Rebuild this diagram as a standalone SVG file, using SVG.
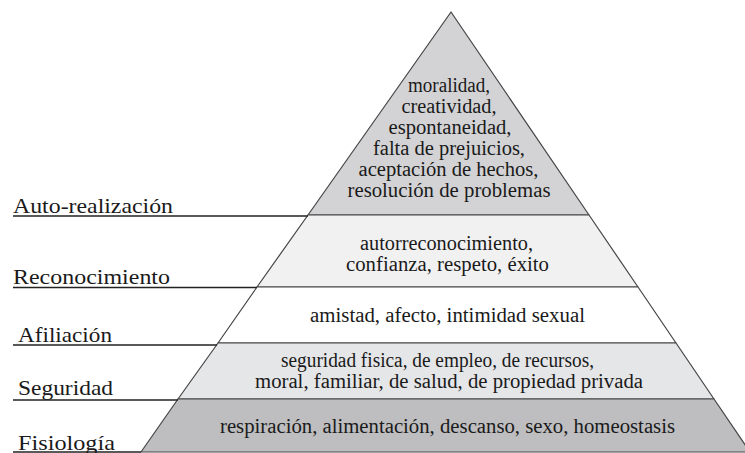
<svg xmlns="http://www.w3.org/2000/svg" width="745" height="453" viewBox="0 0 745 453" font-family="Liberation Serif, serif">
<style>
.band{stroke:#444;stroke-width:1.2;stroke-linejoin:round}
.t{font-family:'Liberation Serif','Times New Roman',serif;font-size:20px;fill:#1a1a1a;text-anchor:middle}
.lbl{font-family:'Liberation Serif','Times New Roman',serif;font-size:22px;fill:#1a1a1a}
.lead{stroke:#222;stroke-width:1.4;fill:none}
</style>
<rect width="745" height="453" fill="#ffffff"/>
<g id="level-autorrealizacion">
<polygon class="band" points="451,12 308,215 589,215" fill="#d3d3d5"/>
<text class="t" x="449" y="91.5" textLength="82" lengthAdjust="spacingAndGlyphs">moralidad,</text>
<text class="t" x="449" y="112.6" textLength="95" lengthAdjust="spacingAndGlyphs">creatividad,</text>
<text class="t" x="450" y="133.8" textLength="123" lengthAdjust="spacingAndGlyphs">espontaneidad,</text>
<text class="t" x="449" y="154.9" textLength="152" lengthAdjust="spacingAndGlyphs">falta de prejuicios,</text>
<text class="t" x="448.5" y="176" textLength="180" lengthAdjust="spacingAndGlyphs">aceptación de hechos,</text>
<text class="t" x="449" y="197" textLength="203" lengthAdjust="spacingAndGlyphs">resolución de problemas</text>
<text class="lbl" x="13" y="213" textLength="160" lengthAdjust="spacingAndGlyphs">Auto-realización</text>
</g>
<g id="level-reconocimiento">
<polygon class="band" points="308,215 589,215 638,287 257,287" fill="#f1f1f1"/>
<text class="t" x="446.5" y="250" textLength="173" lengthAdjust="spacingAndGlyphs">autorreconocimiento,</text>
<text class="t" x="447.5" y="270.5" textLength="203" lengthAdjust="spacingAndGlyphs">confianza, respeto, éxito</text>
<text class="lbl" x="13" y="284" textLength="157" lengthAdjust="spacingAndGlyphs">Reconocimiento</text>
</g>
<g id="level-afiliacion">
<polygon class="band" points="257,287 638,287 676,343 218,343" fill="#ffffff"/>
<text class="t" x="447.5" y="322" textLength="275" lengthAdjust="spacingAndGlyphs">amistad, afecto, intimidad sexual</text>
<text class="lbl" x="18" y="342" textLength="94" lengthAdjust="spacingAndGlyphs">Afiliación</text>
</g>
<g id="level-seguridad">
<polygon class="band" points="218,343 676,343 714,399 178,399" fill="#e5e6e8"/>
<text class="t" x="437.5" y="367" textLength="313" lengthAdjust="spacingAndGlyphs">seguridad fisica, de empleo, de recursos,</text>
<text class="t" x="449" y="388" textLength="388" lengthAdjust="spacingAndGlyphs">moral, familiar, de salud, de propiedad privada</text>
<text class="lbl" x="18" y="395" textLength="95" lengthAdjust="spacingAndGlyphs">Seguridad</text>
</g>
<g id="level-fisiologia">
<polygon class="band" points="178,399 714,399 750,452 141,452" fill="#bebec0"/>
<text class="t" x="447.5" y="433" textLength="455" lengthAdjust="spacingAndGlyphs">respiración, alimentación, descanso, sexo, homeostasis</text>
<text class="lbl" x="18" y="450" textLength="97" lengthAdjust="spacingAndGlyphs">Fisiología</text>
</g>
<g id="connectors">
<line class="lead" x1="13" y1="216" x2="308" y2="216"/>
<line class="lead" x1="13" y1="287.5" x2="257" y2="287.5"/>
<line class="lead" x1="13" y1="345" x2="217" y2="345"/>
<line class="lead" x1="13" y1="400" x2="178" y2="400"/>
<line class="lead" x1="13" y1="452" x2="141" y2="452"/>
</g>
</svg>
